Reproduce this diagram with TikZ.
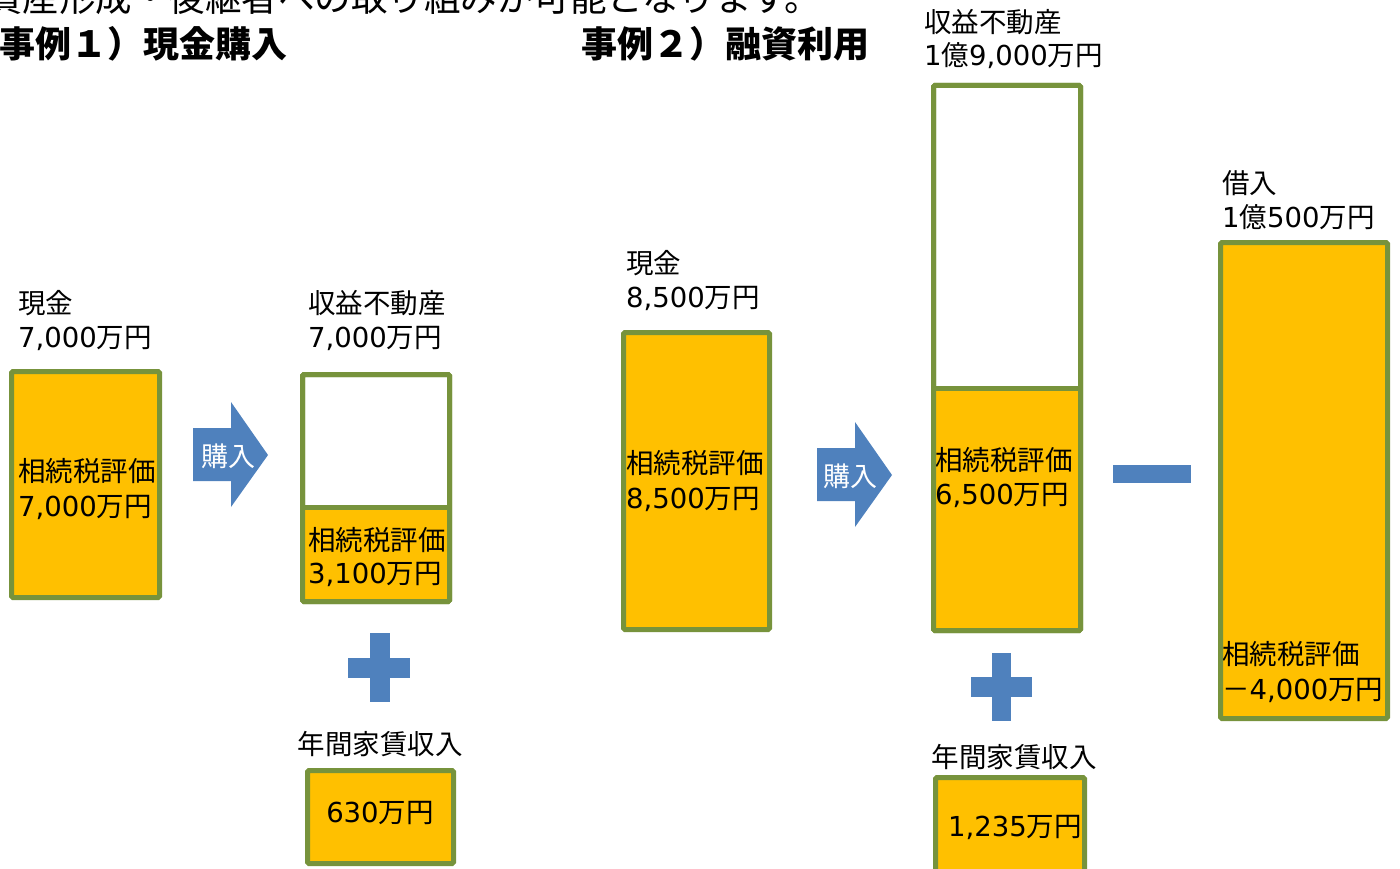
\documentclass[tikz,border=0pt]{standalone}
\usepackage{fontspec}
\setmainfont{Noto Sans CJK JP}
\newfontfamily\dv{DejaVu Sans}
\definecolor{boxfill}{HTML}{FFC000}
\definecolor{boxline}{HTML}{77933C}
\definecolor{accent}{HTML}{4F81BD}
\tikzset{
  lbl/.style={anchor=base west, inner sep=0pt, font=\fontsize{27.5}{33}\selectfont},
  lblc/.style={anchor=base, inner sep=0pt, font=\fontsize{27.5}{33}\selectfont},
  ttl/.style={anchor=base west, inner sep=0pt, font=\fontsize{36}{40}\selectfont\bfseries},
  box/.style={fill=boxfill, draw=boxline, line width=5pt, rounded corners=1.5pt},
  wbox/.style={fill=white, draw=boxline, line width=5pt, rounded corners=1.5pt},
  divline/.style={draw=boxline, line width=5pt},
  sym/.style={fill=accent, draw=none},
  arrtxt/.style={anchor=center, inner sep=0pt, text=white, font=\fontsize{27}{30}\selectfont},
}
\begin{document}
\begin{tikzpicture}[x=1pt, y=-1pt]
\useasboundingbox (0,0) rectangle (1400,869);
% cut-off intro line
\node[anchor=base west, inner sep=0pt, font=\fontsize{36.5}{40}\selectfont] (intro) at (-14,12) {資産形成・後継者への取り組みが可能となります。};
% titles
\node[ttl] (t1) at (-1,58) {事例１）現金購入};
\node[ttl] (t2) at (581,58) {事例２）融資利用};

% ---------- Case 1 ----------
\node[lbl] (c1a) at (18,313) {現金};
\node[lbl] (c1b) at (18,347) {{\dv 7,000}万円};
\draw[box] (11.5,371.5) rectangle (159.5,597.5);
\node[lbl] (c1c) at (18,481) {相続税評価};
\node[lbl] (c1d) at (18,516) {{\dv 7,000}万円};

\fill[sym] (193,428) -- (231,428) -- (231,402) -- (268,455) -- (231,507) -- (231,481) -- (193,481) -- cycle;
\node[arrtxt] (buy1) at (228,456) {購入};

\node[lbl] (p1a) at (308,313) {収益不動産};
\node[lbl] (p1b) at (308,347) {{\dv 7,000}万円};
\draw[wbox] (302.5,374.5) rectangle (449.5,601.5);
\fill[boxfill] (302.5,507) rectangle (449.5,601.5);
\draw[box, fill=none] (302.5,374.5) rectangle (449.5,601.5);
\draw[divline] (302.5,507) -- (449.5,507);
\node[lbl] (p1c) at (308,550) {相続税評価};
\node[lbl] (p1d) at (308,583) {{\dv 3,100}万円};

\fill[sym] (370,633) rectangle (390,702);
\fill[sym] (348,658) rectangle (410,678);
\node[lblc] (r1a) at (380,754) {年間家賃収入};
\draw[box] (307.5,770.5) rectangle (453.5,863.5);
\node[lblc] (r1b) at (380,822) {{\dv 630}万円};

% ---------- Case 2 ----------
\node[lbl] (c2a) at (626,273) {現金};
\node[lbl] (c2b) at (626,307) {{\dv 8,500}万円};
\draw[box] (623.5,332.5) rectangle (769.5,629.5);
\node[lbl] (c2c) at (626,473) {相続税評価};
\node[lbl] (c2d) at (626,508) {{\dv 8,500}万円};

\fill[sym] (817,448) -- (855,448) -- (855,422) -- (892,475) -- (855,527) -- (855,501) -- (817,501) -- cycle;
\node[arrtxt] (buy2) at (850,476) {購入};

\node[lbl] (p2a) at (924,33) {収益不動産};
\node[lbl] (p2b) at (924,66) {{\dv 1}億{\dv 9,000}万円};
\draw[wbox] (933.5,85.5) rectangle (1080.5,630.5);
\fill[boxfill] (933.5,388) rectangle (1080.5,630.5);
\draw[box, fill=none] (933.5,85.5) rectangle (1080.5,630.5);
\draw[divline] (933.5,388) -- (1080.5,388);
\node[lbl] (p2c) at (935,470) {相続税評価};
\node[lbl] (p2d) at (935,504) {{\dv 6,500}万円};

\fill[sym] (992,653) rectangle (1011,721);
\fill[sym] (971,677) rectangle (1032,697);
\node[lblc] (r2a) at (1014,767) {年間家賃収入};
\draw[box] (935.5,777.5) rectangle (1084.5,890);
\node[lbl] (r2b) at (948,836) {{\dv 1,235}万円};

\fill[sym] (1113,465) rectangle (1191,483);

\node[lbl] (l2a) at (1222,194) {借入};
\node[lbl] (l2b) at (1222,227) {{\dv 1}億{\dv 500}万円};
\draw[box] (1220.5,242.5) rectangle (1387.5,718.5);
\node[lbl] (l2c) at (1222,664) {相続税評価};
\node[lbl] (l2d) at (1222,699) {－{\dv 4,000}万円};
\end{tikzpicture}
\end{document}
